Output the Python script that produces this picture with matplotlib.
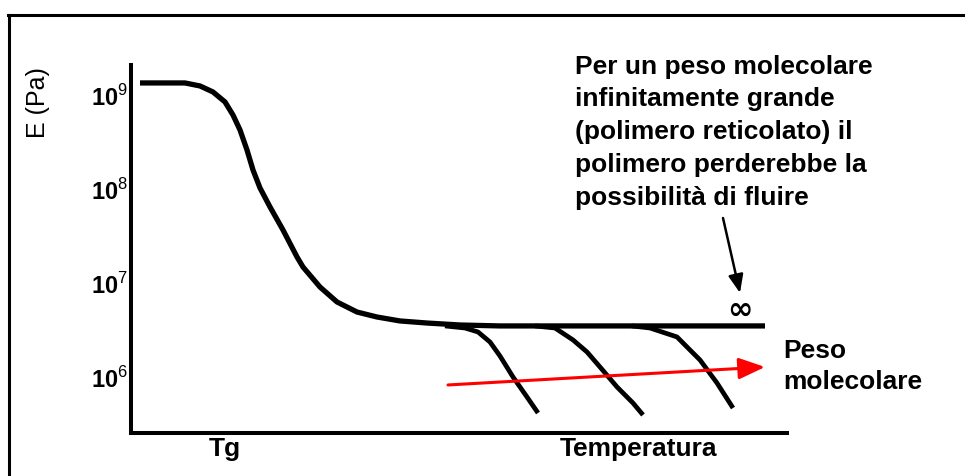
import numpy as np
import matplotlib
matplotlib.use("Agg")
from matplotlib import pyplot as plt
from matplotlib.lines import Line2D

plt.rcParams['font.family'] = ['Liberation Sans Narrow', 'Liberation Sans', 'DejaVu Sans']
plt.rcParams['mathtext.fontset'] = 'custom'
plt.rcParams['mathtext.rm'] = 'Liberation Sans'
plt.rcParams['mathtext.bf'] = 'Liberation Sans:bold'

# temperature in arbitrary units, modulus as log10(E / Pa)
main_T = [9, 54, 69, 82, 94, 102, 109, 116, 122, 129, 139, 152, 166, 172,
          189, 206, 226, 246, 269, 296, 329, 369, 634]
main_logE = [9.128, 9.128, 9.096, 9.032, 8.926, 8.787, 8.628, 8.415, 8.202,
             8.011, 7.809, 7.564, 7.277, 7.170, 6.957, 6.798, 6.691, 6.638,
             6.596, 6.574, 6.553, 6.543, 6.543]

# flow branches for increasing molecular weight
branch1_T = [314, 334, 347, 359, 369, 382, 396, 407]
branch1_logE = [6.543, 6.521, 6.479, 6.372, 6.223, 6.0, 5.787, 5.617]
branch2_T = [404, 424, 442, 456, 469, 486, 502, 512]
branch2_logE = [6.543, 6.521, 6.394, 6.266, 6.106, 5.894, 5.723, 5.596]
branch3_T = [501, 519, 546, 559, 569, 586, 602]
branch3_logE = [6.543, 6.521, 6.426, 6.287, 6.181, 5.936, 5.670]

ytick_exp = [6, 7, 8, 9]
xtick_pos = [94, 507]
xtick_labels = ['Tg', 'Temperatura']

note = ("Per un peso molecolare\ninfinitamente grande\n(polimero reticolato) il\n"
        "polimero perderebbe la\npossibilità di fluire")

fig = plt.figure(figsize=(9.65, 4.76), dpi=100)
ax = fig.add_axes([131 / 965, 1 - 433 / 476, 656 / 965, 368 / 476])

lw = 3.8
ax.plot(main_T, 10 ** np.array(main_logE), color='black', lw=lw,
        solid_capstyle='butt', solid_joinstyle='round')
for bt, be in [(branch1_T, branch1_logE), (branch2_T, branch2_logE),
               (branch3_T, branch3_logE)]:
    ax.plot(bt, 10 ** np.array(be), color='black', lw=lw - 0.4,
            solid_capstyle='butt', solid_joinstyle='round')

ax.set_yscale('log')
ax.set_xlim(0, 656)
ax.set_ylim(10 ** 5.404, 10 ** 9.319)

ax.set_yticks([10.0 ** e for e in ytick_exp])
ax.set_yticklabels([r'$\mathbf{10}^{%d}$' % e for e in ytick_exp])
ax.yaxis.set_minor_locator(matplotlib.ticker.NullLocator())
ax.set_xticks(xtick_pos)
ax.set_xticklabels(xtick_labels, fontweight='bold')
ax.tick_params(length=0, labelsize=19, pad=3)
ax.tick_params(axis='y', labelsize=17, pad=2)

for side in ['top', 'right']:
    ax.spines[side].set_visible(False)
for side in ['left', 'bottom']:
    ax.spines[side].set_linewidth(2.9)

ax.set_ylabel('E (Pa)', fontsize=18)
ax.yaxis.set_label_coords(-0.124, 0.899)

# molecular weight arrow
ax.annotate('', xy=(634, 10 ** 6.106), xytext=(317, 10 ** 5.915),
            arrowprops=dict(arrowstyle='-|>,head_length=1.6,head_width=0.65',
                            mutation_scale=10, lw=2.2, color='red',
                            shrinkA=0, shrinkB=0))
ax.text(652, 10 ** 6.404, 'Peso\nmolecolare', fontsize=19, fontweight='bold',
        va='top', ha='left', linespacing=1.38)

# note on infinite molecular weight
ax.text(444, 10 ** 9.43, note, fontsize=19, fontweight='bold', va='top',
        ha='left', linespacing=1.47, clip_on=False)
ax.annotate('', xy=(609, 10 ** 6.894), xytext=(592, 10 ** 7.691),
            arrowprops=dict(arrowstyle='-|>,head_length=1.1,head_width=0.45',
                            mutation_scale=10, lw=1.8, color='black',
                            shrinkA=0, shrinkB=0))
ax.text(609, 10 ** 6.713, '∞', fontsize=22, fontweight='bold',
        ha='center', va='center', family='DejaVu Sans')

# frame around the figure
fig.add_artist(Line2D([8 / 965, 1], [1 - 15 / 476] * 2, color='black', lw=2.2))
fig.add_artist(Line2D([9 / 965] * 2, [0, 1 - 15 / 476], color='black', lw=2.2))

fig.savefig('out.png', dpi=100)
